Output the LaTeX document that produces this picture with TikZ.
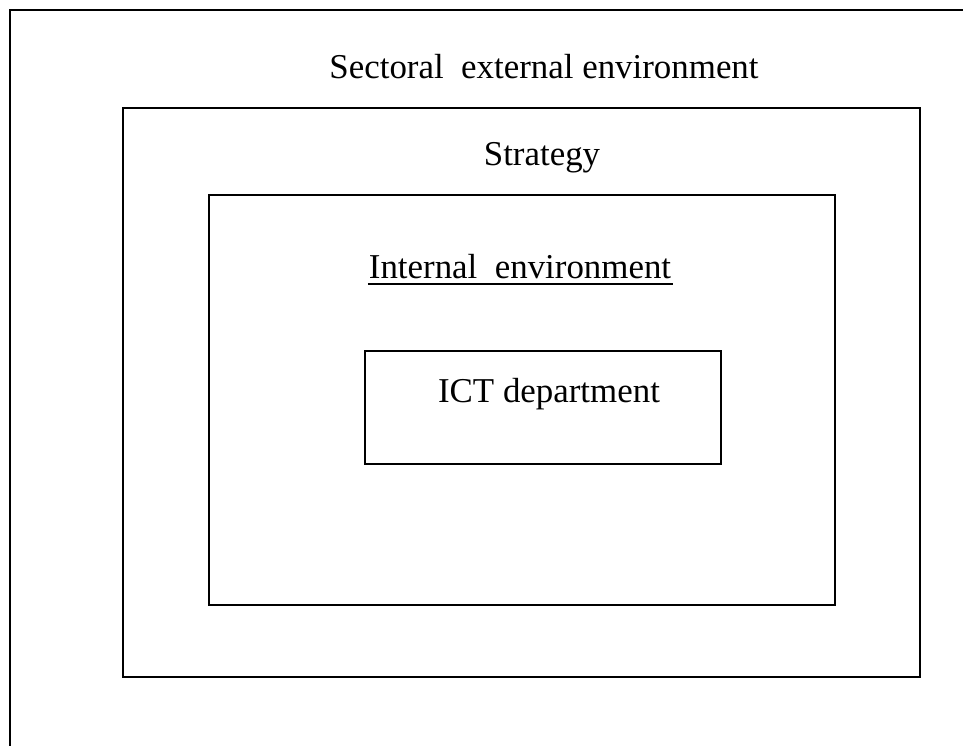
\documentclass[tikz,border=0pt]{standalone}
\usepackage{fontspec}
\setmainfont{Liberation Serif}
\begin{document}
\begin{tikzpicture}[x=0.344pt,y=-0.344pt,line width=0.7pt,font=\fontsize{12}{14}\selectfont]
                \tikzset{label/.style={anchor=base,inner sep=0pt}}
                \useasboundingbox (0,0) rectangle (963,746);
                \coordinate (sectorTL) at (10,10);
                \coordinate (sectorBL) at (10,746);
                \coordinate (sectorTR) at (963,10);
                \draw (sectorBL)--(sectorTL)--(sectorTR);
                \draw (123,108) rectangle (920,677);
                \draw (209,195) rectangle (835,605);
                \draw (365,351) rectangle (721,464);
                \node[label] (sector) at (544,79) {Sectoral\ \ external environment};
                \node[label] (strategy) at (542,166) {Strategy};
                \node[label] (internal) at (520,279) {Internal\ \ environment};
                \draw (internal.base west)++(0,5)--++(305,0);
                \node[label] (ict) at (549,402) {ICT department};
            \end{tikzpicture}
\end{document}
